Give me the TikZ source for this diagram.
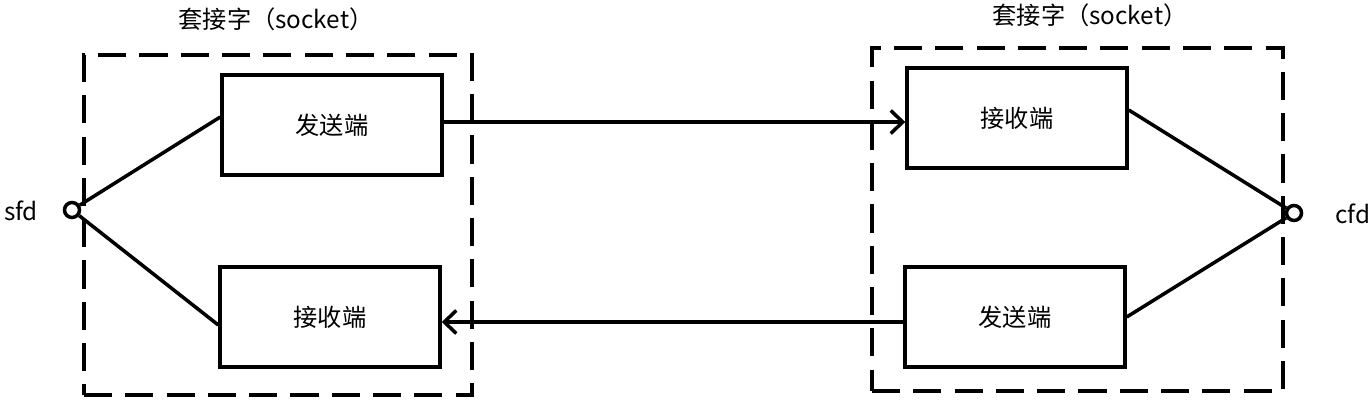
\documentclass[tikz,border=0pt]{standalone}
\usepackage{fontspec}
\newfontfamily\cjk{Noto Sans CJK SC}
\usetikzlibrary{arrows.meta}
\begin{document}
\begin{tikzpicture}[
        x=0.02cm, y=-0.02cm,
        line width=2pt,
        font=\cjk\fontsize{13.8}{16}\selectfont
    ]
    \tikzset{
        endbox/.style = {rectangle, draw=black, align=center, minimum width=4.4cm, minimum height=2cm, inner sep=0pt},
        sockbox/.style = {rectangle, draw=black, dash pattern=on 16pt off 7.5pt, line width=2.5pt, inner sep=0pt},
        fdnode/.style = {circle, draw=black, minimum size=0.3cm, inner sep=0pt},
        pipe/.style = {-{Straight Barb[length=2.4mm,width=4.6mm]}}
    }
    \useasboundingbox (0,0) rectangle (1372,408);
    % left socket
    \node[sockbox, minimum width=7.76cm, minimum height=6.8cm] (lsock) at (278,225) {};
    \node (ltitle) at (276,19) {套接字（socket）};
    \node[endbox] (lsend) at (332,125) {发送端};
    \node[endbox] (lrecv) at (330,317) {接收端};
    \node[fdnode] (sfd) at (72,210) {};
    \node (sfdlabel) at (21,211) {sfd};
    % right socket
    \node[sockbox, minimum width=8.22cm, minimum height=6.86cm] (rsock) at (1077.5,219.5) {};
    \node (rtitle) at (1090,15) {套接字（socket）};
    \node[endbox] (rrecv) at (1017,118) {接收端};
    \node[endbox] (rsend) at (1015,317) {发送端};
    \node[fdnode] (cfd) at (1294,213) {};
    \node (cfdlabel) at (1353,214) {cfd};
    % connectors
    \draw (sfd) -- ([yshift=0.16cm]lsend.west);
    \draw (sfd) -- ([yshift=-0.16cm]lrecv.west);
    \draw (cfd) -- ([yshift=0.16cm]rrecv.east);
    \draw (cfd) -- (rsend.east);
    \draw[pipe] ([yshift=0.06cm]lsend.east) -- ([yshift=0.06cm]lsend.east -| rrecv.west);
    \draw[pipe] ([yshift=-0.1cm]rsend.west) -- ([yshift=-0.1cm]rsend.west -| lrecv.east);
\end{tikzpicture}
\end{document}
